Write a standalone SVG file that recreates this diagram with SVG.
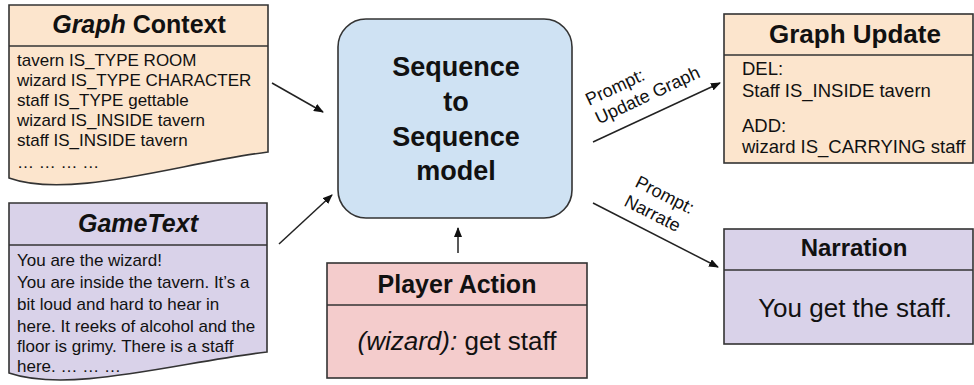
<svg xmlns="http://www.w3.org/2000/svg" width="974" height="385" viewBox="0 0 974 385">
<defs>
<marker id="ah" viewBox="0 0 10 8" refX="9" refY="4" markerWidth="10" markerHeight="8" markerUnits="userSpaceOnUse" orient="auto">
<path d="M0,0 L10,4 L0,8 Z" fill="#111"/>
</marker>
<style>
.box{stroke:#333;stroke-width:1.6}
.div{stroke:#333;stroke-width:1.4}
.t{font-family:"Liberation Sans",Arial,sans-serif;fill:#111}
.b{font-weight:bold}
.i{font-style:italic}
.c{text-anchor:middle}
.conn{stroke:#222;stroke-width:1.5;fill:none;marker-end:url(#ah)}
</style>
</defs>
<rect width="974" height="385" fill="#fff"/>

<g id="graph-context">
<path class="box" fill="#fce5cd" d="M9,5 H268 V152 C180,163 70,200 9,178 Z"/>
<line class="div" x1="9" y1="46" x2="268" y2="46"/>
<text class="t b c" x="139" y="33" font-size="25"><tspan class="i">Graph</tspan> Context</text>
<g class="t" font-size="17">
<text x="17" y="66">tavern IS_TYPE ROOM</text>
<text x="17" y="86">wizard IS_TYPE CHARACTER</text>
<text x="17" y="106">staff IS_TYPE gettable</text>
<text x="17" y="126">wizard IS_INSIDE tavern</text>
<text x="17" y="146">staff IS_INSIDE tavern</text>
<text x="17" y="168">… … … …</text>
</g>
</g>

<g id="gametext">
<path class="box" fill="#d9d2e9" d="M9,203 H267 V352 C180,362 70,394 9,373 Z"/>
<line class="div" x1="9" y1="245" x2="267" y2="245"/>
<text class="t b i c" x="138" y="232" font-size="25">GameText</text>
<g class="t" font-size="17">
<text x="17" y="266">You are the wizard!</text>
<text x="17" y="288">You are inside the tavern. It’s a</text>
<text x="17" y="310">bit loud and hard to hear in</text>
<text x="17" y="332">here. It reeks of alcohol and the</text>
<text x="17" y="352">floor is grimy. There is a staff</text>
<text x="17" y="372">here. … … …</text>
</g>
</g>

<g id="seq2seq">
<rect class="box" fill="#cfe2f3" x="338" y="19" width="234" height="199" rx="28"/>
<g class="t b c" font-size="27">
<text x="456" y="76">Sequence</text>
<text x="456" y="111">to</text>
<text x="456" y="146">Sequence</text>
<text x="456" y="180">model</text>
</g>
</g>

<g id="player-action">
<rect class="box" fill="#f4cccc" x="327" y="263" width="260" height="115"/>
<line class="div" x1="327" y1="305" x2="587" y2="305"/>
<text class="t b c" x="457" y="293" font-size="25">Player Action</text>
<text class="t c" x="457" y="350" font-size="26"><tspan class="i">(wizard):</tspan> get staff</text>
</g>

<g id="graph-update">
<rect class="box" fill="#fce5cd" x="724" y="14" width="249" height="149"/>
<line class="div" x1="724" y1="55" x2="973" y2="55"/>
<text class="t b c" x="855" y="43" font-size="26">Graph Update</text>
<g class="t" font-size="18.5">
<text x="742" y="75">DEL:</text>
<text x="742" y="97">Staff IS_INSIDE tavern</text>
<text x="742" y="132">ADD:</text>
<text x="742" y="153">wizard IS_CARRYING staff</text>
</g>
</g>

<g id="narration">
<rect class="box" fill="#d9d2e9" x="724" y="229" width="249" height="115"/>
<line class="div" x1="724" y1="270" x2="973" y2="270"/>
<text class="t b c" x="854" y="256" font-size="24">Narration</text>
<text class="t c" x="855" y="317" font-size="26">You get the staff.</text>
</g>

<g id="connectors">
<line class="conn" x1="272" y1="83" x2="323" y2="112"/>
<line class="conn" x1="279" y1="244" x2="332" y2="195"/>
<line class="conn" x1="458" y1="253" x2="458" y2="228"/>
<line class="conn" x1="593" y1="142" x2="720" y2="83"/>
<line class="conn" x1="593" y1="203" x2="718" y2="267"/>
<g class="t" font-size="18" transform="translate(589,106) rotate(-25)">
<text x="0" y="0">Prompt:</text>
<text x="1" y="21">Update Graph</text>
</g>
<g class="t" font-size="18" transform="translate(634,186) rotate(27)">
<text x="0" y="0">Prompt:</text>
<text x="-1" y="22">Narrate</text>
</g>
</g>
</svg>
